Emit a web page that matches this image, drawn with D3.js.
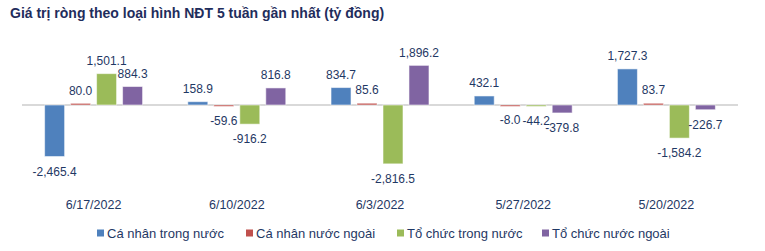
<!DOCTYPE html>
<html>
<head>
<meta charset="utf-8">
<script src="https://cdn.jsdelivr.net/npm/d3@7"></script>
<style>
	body { margin: 0; background: #fff; }
	svg { display: block; font-family: "Liberation Sans", Arial, sans-serif; }
</style>
</head>
<body>
<svg id="chart" width="765" height="251"></svg>
<script>
// weeks, newest first
var weeks = ["6/17/2022", "6/10/2022", "6/3/2022", "5/27/2022", "5/20/2022"];
var seriesNames = ["Cá nhân trong nước", "Cá nhân nước ngoài", "Tổ chức trong nước", "Tổ chức nước ngoài"];
var caNhanTrongNuoc = [-2465.4, 158.9, 834.7, 432.1, 1727.3];
var caNhanNuocNgoai = [80.0, -59.6, 85.6, -8.0, 83.7];
var toChucTrongNuoc = [1501.1, -916.2, -2816.5, -44.2, -1584.2];
var toChucNuocNgoai = [884.3, 816.8, 1896.2, -379.8, -226.7];
var colors = ["#4F81BD", "#C0504D", "#9BBB59", "#8064A2"];

var svg = d3.select("#chart");
var navy = "#1F3864";
// plain hyphen for negatives, like the original
var fmt = d3.formatLocale({ decimal: ".", thousands: ",", grouping: [3], currency: ["", ""], minus: "-" }).format(",.1f");

// title
svg.append("text")
	.attr("x", 10).attr("y", 18)
	.attr("font-size", 14).attr("font-weight", "bold")
	.attr("fill", "#1F2D5C")
	.text("Giá trị ròng theo loại hình NĐT 5 tuần gần nhất (tỷ đồng)");

var allSeries = [caNhanTrongNuoc, caNhanNuocNgoai, toChucTrongNuoc, toChucNuocNgoai];
var rows = [];
weeks.forEach(function(w, i) {
	seriesNames.forEach(function(s, j) {
		rows.push({ week: w, series: s, idx: j, value: allSeries[j][i] });
	});
});

var x0 = d3.scaleBand().domain(weeks).range([22, 738])
	.paddingInner(0.316).paddingOuter(0.158);
var x1 = d3.scaleBand().domain(seriesNames).range([0, x0.bandwidth()])
	.paddingInner(0.2308);
var y = d3.scaleLinear().domain([-3000, 2000]).range([167.7, 63.2]);

// zero line
svg.append("line")
	.attr("x1", 22).attr("x2", 738)
	.attr("y1", y(0)).attr("y2", y(0))
	.attr("stroke", "#D9D9D9").attr("stroke-width", 2);

var g = svg.append("g");
g.selectAll("rect")
	.data(rows)
	.enter().append("rect")
		.attr("x", d => x0(d.week) + x1(d.series))
		.attr("width", x1.bandwidth())
		.attr("y", d => Math.min(y(d.value), y(0)))
		.attr("height", d => Math.max(1.5, Math.abs(y(d.value) - y(0))))
		.attr("fill", d => colors[d.idx])
		.attr("stroke", "rgba(255,255,255,0.55)")
		.attr("stroke-width", 1);

// value labels
g.selectAll("text.val")
	.data(rows)
	.enter().append("text")
		.attr("class", "val")
		.attr("x", d => x0(d.week) + x1(d.series) + x1.bandwidth() / 2)
		.attr("y", d => d.value >= 0 ? y(d.value) - 13 : y(d.value) + 15)
		.attr("dy", "0.35em")
		.attr("text-anchor", "middle")
		.attr("font-size", 12)
		.attr("fill", navy)
		.text(d => fmt(d.value));

// category axis labels
svg.append("g").selectAll("text")
	.data(weeks)
	.enter().append("text")
		.attr("x", d => x0(d) + x0.bandwidth() / 2)
		.attr("y", 205)
		.attr("dy", "0.35em")
		.attr("text-anchor", "middle")
		.attr("font-size", 12.5)
		.attr("fill", navy)
		.text(d => d);

// legend
var legendX = [97, 246, 397, 542];
var legend = svg.append("g").selectAll("g")
	.data(seriesNames)
	.enter().append("g")
		.attr("transform", (d, i) => `translate(${legendX[i]}, 233)`);
legend.append("rect")
	.attr("x", 0).attr("y", -3.5)
	.attr("width", 7).attr("height", 7)
	.attr("fill", (d, i) => colors[i]);
legend.append("text")
	.attr("x", 10).attr("dy", "0.35em")
	.attr("font-size", 13)
	.attr("fill", navy)
	.text(d => d);
</script>
</body>
</html>
